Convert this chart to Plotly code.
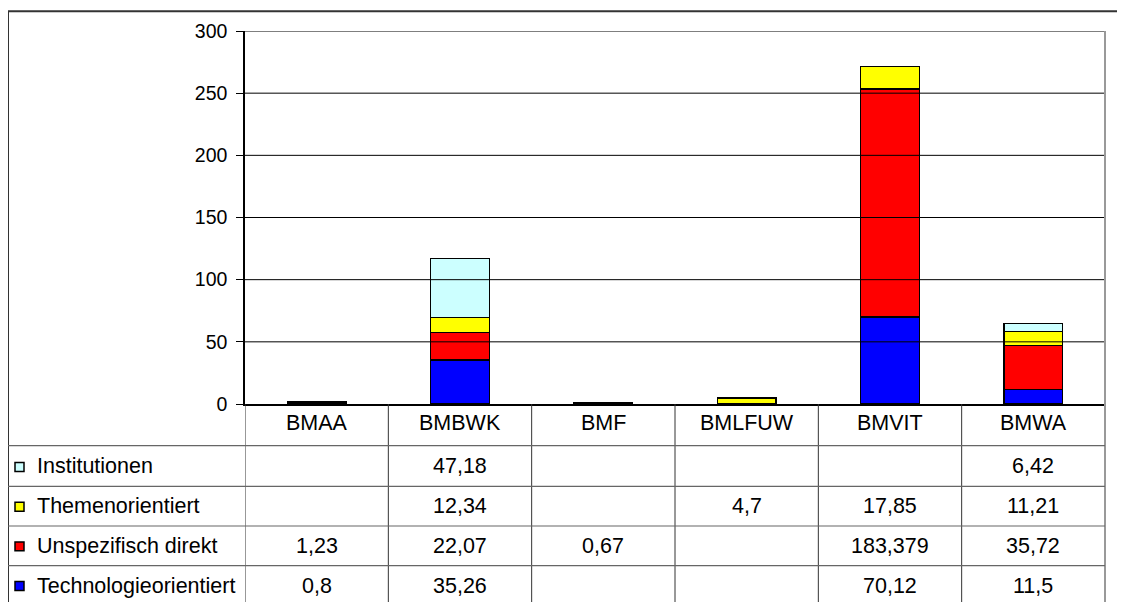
import plotly.graph_objects as go

categories = ["BMAA", "BMBWK", "BMF", "BMLFUW", "BMVIT", "BMWA"]
series_names = ["Institutionen", "Themenorientiert", "Unspezifisch direkt", "Technologieorientiert"]
institutionen = [None, 47.18, None, None, None, 6.42]
themenorientiert = [None, 12.34, None, 4.7, 17.85, 11.21]
unspezifisch = [1.23, 22.07, 0.67, None, 183.379, 35.72]
technologie = [0.8, 35.26, None, None, 70.12, 11.5]
colors = ["#CCFFFF", "#FFFF00", "#FF0000", "#0000FF"]
y_ticks = [0, 50, 100, 150, 200, 250, 300]

table_values = [institutionen, themenorientiert, unspezifisch, technologie]

OFF = 8  # page body margin
W, H = 1125 - OFF, 602 - OFF
PL, PR, PT, PB = 245, 1105, 28, 404  # target plot area in window pixels
L, T = PL - OFF, PT - OFF
R = W - (PR - OFF)
B = H - (PB - OFF)
PW = PR - PL
PH = PB - PT


def px2x(px):
    return (px - PL) / PW


def py2y(py):
    return (PB - py) / PH


FONT = "Liberation Sans, Arial, sans-serif"
FS = 21.5
TFS = 19.5

fig = go.Figure()
for name, vals, col in reversed(list(zip(series_names, table_values, colors))):
    fig.add_trace(go.Bar(
        x=categories, y=vals, name=name,
        marker=dict(color=col, line=dict(color="black", width=1.5)),
        showlegend=False,
    ))

shapes = []
for t in y_ticks[1:]:
    shapes.append(dict(type="line", xref="paper", yref="y", x0=0, x1=1, y0=t, y1=t,
                       line=dict(color="black", width=1), layer="above"))
shapes.append(dict(type="rect", xref="paper", yref="paper",
                   x0=px2x(8), x1=px2x(1140), y0=py2y(8), y1=py2y(640),
                   line=dict(color="#333333", width=2), layer="below"))
shapes.append(dict(type="line", xref="paper", yref="paper", x0=1, x1=1,
                   y0=py2y(28), y1=py2y(610), line=dict(color="#999999", width=2)))
for i in range(len(categories)):
    shapes.append(dict(type="line", xref="x", yref="paper", x0=i - 0.5, x1=i - 0.5,
                       y0=0, y1=py2y(610), line=dict(color="#333333", width=1)))
for py in [446, 487, 527, 567]:
    shapes.append(dict(type="line", xref="paper", yref="paper", x0=px2x(8), x1=1,
                       y0=py2y(py), y1=py2y(py), line=dict(color="#666666", width=1.2)))

row_centers = [467, 507, 547, 587]
annotations = []
for c in categories:
    annotations.append(dict(x=c, xref="x", y=py2y(423), yref="paper", text=c,
                            showarrow=False, font=dict(family=FONT, size=FS, color="black"),
                            xanchor="center", yanchor="middle"))
for name, vals, col, yc in zip(series_names, table_values, colors, row_centers):
    annotations.append(dict(x=px2x(35), xref="paper", y=py2y(yc), yref="paper", text=name,
                            showarrow=False, font=dict(family=FONT, size=FS, color="black"),
                            xanchor="left", yanchor="middle"))
    shapes.append(dict(type="rect", xref="paper", yref="paper",
                       x0=px2x(15), x1=px2x(24), y0=py2y(yc - 4), y1=py2y(yc + 5),
                       fillcolor=col, line=dict(color="black", width=1.5)))
    for c, v in zip(categories, vals):
        if v is None:
            continue
        annotations.append(dict(x=c, xref="x", y=py2y(yc), yref="paper",
                                text=str(v).replace(".", ","),
                                showarrow=False, font=dict(family=FONT, size=FS, color="black"),
                                xanchor="center", yanchor="middle"))

fig.update_layout(
    width=W, height=H,
    margin=dict(l=L, r=R, t=T, b=B, pad=0),
    barmode="stack", bargap=0.59,
    plot_bgcolor="white", paper_bgcolor="white",
    font=dict(family=FONT, size=FS, color="black"),
    shapes=shapes, annotations=annotations,
    xaxis=dict(range=[-0.5, 5.5], showticklabels=False, showgrid=False, zeroline=False,
               showline=True, linecolor="black", linewidth=2, ticks="", layer="above traces"),
    yaxis=dict(range=[0, 300], tickvals=y_ticks, showgrid=False, zeroline=False,
               showline=True, linecolor="black", linewidth=1.5, mirror=False,
               ticks="outside", ticklen=7, tickcolor="black", tickwidth=1,
               ticklabelstandoff=5,
               tickfont=dict(family=FONT, size=TFS, color="black")),
)

fig.write_html("out.html")
